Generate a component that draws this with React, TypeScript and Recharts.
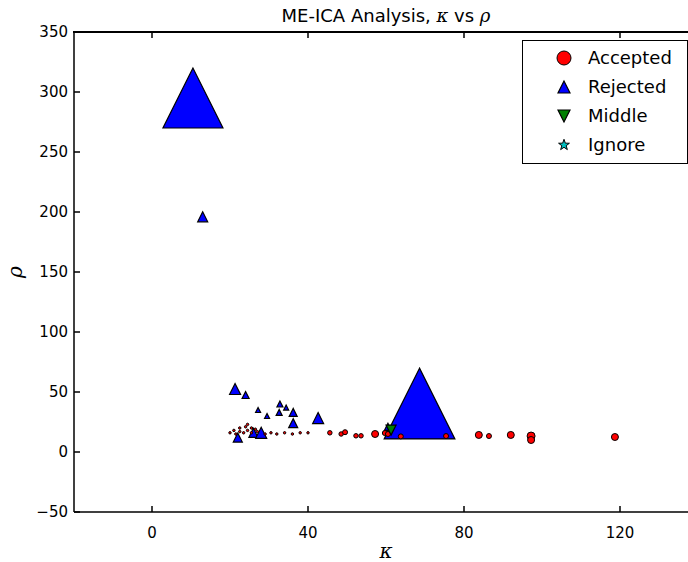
import { ScatterChart, Scatter, XAxis, YAxis, ZAxis } from 'recharts';

// component kappa / rho / marker area (variance explained)
const acceptedKappa = [20, 21.5, 22.5, 23.5, 24.5, 25.5, 27, 29, 30.5, 32, 34, 36, 38, 40, 22.5, 24, 25.5, 24.5, 21, 26.5,
  45.6, 48.5, 49.5, 52.3, 53.6, 57.2, 59.7, 60.5, 63.8, 75.4, 83.8, 86.4, 92, 97.2, 97.2, 118.7];
const acceptedRho = [16, 15, 17, 16, 18, 16, 17, 15, 16, 15, 16, 15, 16, 16, 20, 21, 20, 23, 18, 19,
  16, 15, 16.5, 13.5, 13.5, 15, 15.8, 15, 13, 13.3, 14.2, 13.3, 14.2, 13.3, 10, 12.5];
const acceptedSize = [6, 6, 6, 6, 6, 6, 6, 6, 6, 6, 6, 6, 6, 6, 6, 6, 6, 6, 6, 6,
  20, 20, 25, 20, 20, 49, 25, 25, 25, 25, 49, 25, 49, 64, 49, 49];

const rejectedKappa = [10.5, 13, 21.3, 24, 22, 26, 28, 27.2, 29.5, 32.8, 34.4, 32.6, 36.2, 36.2, 42.6, 60.5, 68.6];
const rejectedRho = [295, 196, 52.5, 47.5, 12, 16, 16, 35, 30, 40, 37, 33, 33, 24, 28.3, 21, 40.4];
const rejectedSize = [3600, 100, 121, 49, 81, 81, 121, 25, 25, 36, 25, 36, 64, 81, 121, 49, 5000];

const middleKappa = [61.3];
const middleRho = [18.3];
const middleSize = [100];

const ignoreKappa: number[] = [];
const ignoreRho: number[] = [];
const ignoreSize: number[] = [];

const xTicks = [0, 40, 80, 120];
const yTicks = [-50, 0, 50, 100, 150, 200, 250, 300, 350];

const toPoints = (k: number[], r: number[], s: number[]) =>
  k.map((kappa, i) => ({ kappa, rho: r[i], s: s[i] }));

const accepted = toPoints(acceptedKappa, acceptedRho, acceptedSize);
const rejected = toPoints(rejectedKappa, rejectedRho, rejectedSize);
const middle = toPoints(middleKappa, middleRho, middleSize);
const ignore = toPoints(ignoreKappa, ignoreRho, ignoreSize);

const FONT = 'DejaVu Sans, sans-serif';
const MATH = 'DejaVu Serif, serif';
const PLOT_TOP = 32;
const PLOT_H = 480;
const minus = (v: number) => String(v).replace('-', '\u2212');

function CircleMark({ cx, cy, size, color }: any) {
  const r = Math.sqrt(size) / 2;
  return <circle cx={cx} cy={cy} r={r} fill={color} stroke="#000" strokeWidth={1} />;
}

function TriMark({ cx, cy, size, color, down }: any) {
  const h = Math.sqrt(size) / 2;
  const d = down ? -1 : 1;
  const pts = `${cx},${cy - d * h} ${cx - h},${cy + d * h} ${cx + h},${cy + d * h}`;
  return <polygon points={pts} fill={color} stroke="#000" strokeWidth={1.2} />;
}

function starPath(cx: number, cy: number, R: number) {
  const r = R * 0.4;
  let p = '';
  for (let i = 0; i < 10; i++) {
    const a = -Math.PI / 2 + (i * Math.PI) / 5;
    const rad = i % 2 === 0 ? R : r;
    p += `${i === 0 ? 'M' : 'L'}${cx + rad * Math.cos(a)},${cy + rad * Math.sin(a)}`;
  }
  return p + 'Z';
}

function StarMark({ cx, cy, size, color }: any) {
  return <path d={starPath(cx, cy, Math.sqrt(size) / 2)} fill={color} stroke="#000" strokeWidth={1} />;
}

// tick label plus inward tick marks on bottom and top edges (matplotlib classic)
function BottomTick({ x, y, payload }: any) {
  const axisY = y - 12;
  return (
    <g>
      <line x1={x} x2={x} y1={axisY} y2={axisY - 6} stroke="#000" strokeWidth={1.5} />
      <line x1={x} x2={x} y1={axisY - PLOT_H} y2={axisY - PLOT_H + 6} stroke="#000" strokeWidth={1.5} />
      <text x={x} y={y + 14} textAnchor="middle" fontSize={15} fontFamily={FONT} fill="#000">{minus(payload.value)}</text>
    </g>
  );
}

function LeftTick({ x, y, payload }: any) {
  const axisX = x + 6;
  return (
    <g>
      <line x1={axisX} x2={axisX + 6} y1={y} y2={y} stroke="#000" strokeWidth={1.5} />
      <text x={x} y={y + 5} textAnchor="end" fontSize={15} fontFamily={FONT} fill="#000">{minus(payload.value)}</text>
    </g>
  );
}

const legendItems = [
  { name: 'Accepted', color: '#ff0000', kind: 'circle' },
  { name: 'Rejected', color: '#0000ff', kind: 'up' },
  { name: 'Middle', color: '#008000', kind: 'down' },
  { name: 'Ignore', color: '#00bfbf', kind: 'star' },
];

function LegendBox() {
  return (
    <div style={{ position: 'absolute', left: 522, top: 40, width: 164, height: 122, border: '1px solid #000', background: '#fff', fontFamily: FONT, fontSize: 18, zIndex: 3 }}>
      {legendItems.map((it, i) => (
        <div key={it.name} style={{ position: 'absolute', left: 0, top: 4 + i * 29, height: 26, width: 164 }}>
          <svg width={30} height={26} style={{ position: 'absolute', left: 26, top: 0 }}>
            {it.kind === 'circle' && <CircleMark cx={15} cy={13} size={196} color={it.color} />}
            {it.kind === 'up' && <TriMark cx={15} cy={13} size={144} color={it.color} />}
            {it.kind === 'down' && <TriMark cx={15} cy={13} size={144} color={it.color} down />}
            {it.kind === 'star' && <StarMark cx={15} cy={13} size={130} color={it.color} />}
          </svg>
          <span style={{ position: 'absolute', left: 65, top: 2, lineHeight: '22px' }}>{it.name}</span>
        </div>
      ))}
    </div>
  );
}

export default function App() {
  const axisLine = { stroke: '#000', strokeWidth: 1.5 };
  return (
    <div style={{ position: 'absolute', left: 0, top: 0, width: 688, height: 562, overflow: 'hidden', background: '#fff' }}>
      <div style={{ position: 'absolute', left: 74, width: 624, top: 4, textAlign: 'center', fontFamily: FONT, fontSize: 18, lineHeight: '24px' }}>
        ME-ICA Analysis, <span style={{ fontFamily: MATH, fontStyle: 'italic' }}>κ</span> vs <span style={{ fontFamily: MATH, fontStyle: 'italic' }}>ρ</span>
      </div>
      <div style={{ position: 'absolute', left: 0, top: 0 }}>
        <ScatterChart width={710} height={562} margin={{ top: PLOT_TOP, right: 12, left: 0, bottom: 0 }}>
          <XAxis
            xAxisId="main"
            type="number"
            dataKey="kappa"
            domain={[-20, 140]}
            ticks={xTicks}
            allowDataOverflow
            height={50}
            axisLine={axisLine}
            tickLine={false}
            tickSize={0}
            tickMargin={12}
            tick={<BottomTick />}
            label={({ viewBox }: any) => (
              <text x={viewBox.x + viewBox.width / 2} y={viewBox.y + 46} textAnchor="middle" fontSize={20} fontStyle="italic" fontFamily={MATH}>κ</text>
            )}
          />
          <YAxis
            yAxisId="main"
            type="number"
            dataKey="rho"
            domain={[-50, 350]}
            ticks={yTicks}
            allowDataOverflow
            width={74}
            axisLine={axisLine}
            tickLine={false}
            tickSize={0}
            tickMargin={6}
            tick={<LeftTick />}
            label={({ viewBox }: any) => (
              <text x={22} y={viewBox.y + viewBox.height / 2} textAnchor="middle" fontSize={20} fontStyle="italic" fontFamily={MATH} transform={`rotate(-90 22 ${viewBox.y + viewBox.height / 2})`}>ρ</text>
            )}
          />
          <ZAxis zAxisId="s" type="number" dataKey="s" domain={[0, 5000]} range={[0, 5000]} />
          <Scatter name="Rejected" data={rejected} xAxisId="main" yAxisId="main" zAxisId="s" isAnimationActive={false}
            shape={(p: any) => <TriMark cx={p.cx} cy={p.cy} size={p.size} color="#0000ff" />} />
          <Scatter name="Accepted" data={accepted} xAxisId="main" yAxisId="main" zAxisId="s" isAnimationActive={false}
            shape={(p: any) => <CircleMark cx={p.cx} cy={p.cy} size={p.size} color="#ff0000" />} />
          <Scatter name="Middle" data={middle} xAxisId="main" yAxisId="main" zAxisId="s" isAnimationActive={false}
            shape={(p: any) => <TriMark cx={p.cx} cy={p.cy} size={p.size} color="#008000" down />} />
          <Scatter name="Ignore" data={ignore} xAxisId="main" yAxisId="main" zAxisId="s" isAnimationActive={false}
            shape={(p: any) => <StarMark cx={p.cx} cy={p.cy} size={p.size} color="#00bfbf" />} />
        </ScatterChart>
      </div>
      {/* top frame edge */}
      <div style={{ position: 'absolute', left: 73, top: PLOT_TOP - 1, width: 640, height: 2, background: '#000', zIndex: 2 }} />
      <LegendBox />
    </div>
  );
}
